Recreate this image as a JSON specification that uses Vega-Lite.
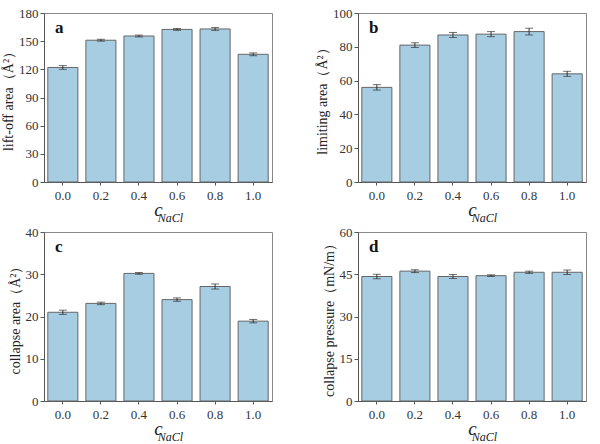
{
  "$schema": "https://vega.github.io/schema/vega-lite/v6.json",
  "padding": {"left": 1, "top": 6, "right": 5, "bottom": 0},
  "datasets": {
    "films": [
      {"c": "0.0", "liftoff": 122, "liftoff_sd": 2, "limiting": 56, "limiting_sd": 1.6, "carea": 21, "carea_sd": 0.5, "cpress": 44.2, "cpress_sd": 0.8},
      {"c": "0.2", "liftoff": 151, "liftoff_sd": 1, "limiting": 81, "limiting_sd": 1.4, "carea": 23.1, "carea_sd": 0.3, "cpress": 46.1, "cpress_sd": 0.5},
      {"c": "0.4", "liftoff": 155.5, "liftoff_sd": 1, "limiting": 87, "limiting_sd": 1.5, "carea": 30.2, "carea_sd": 0.2, "cpress": 44.2, "cpress_sd": 0.7},
      {"c": "0.6", "liftoff": 162.5, "liftoff_sd": 1, "limiting": 87.5, "limiting_sd": 1.5, "carea": 24, "carea_sd": 0.4, "cpress": 44.5, "cpress_sd": 0.3},
      {"c": "0.8", "liftoff": 163, "liftoff_sd": 1.5, "limiting": 89, "limiting_sd": 2, "carea": 27.1, "carea_sd": 0.6, "cpress": 45.7, "cpress_sd": 0.4},
      {"c": "1.0", "liftoff": 136, "liftoff_sd": 1.5, "limiting": 64, "limiting_sd": 1.5, "carea": 18.9, "carea_sd": 0.4, "cpress": 45.7, "cpress_sd": 0.8}
    ]
  },
  "data": {"name": "films"},
  "columns": 2,
  "spacing": {"row": 50, "column": 86},
  "bounds": "flush",
  "concat": [
    {
      "width": 228, "height": 169,
      "title": {"text": "a"},
      "layer": [
        {
          "mark": {"type": "bar", "fill": "#a7cde2", "stroke": "#666", "strokeWidth": 1},
          "encoding": {
            "x": {"field": "c", "type": "ordinal", "scale": {"paddingInner": 0.21, "paddingOuter": 0.1}, "axis": {"title": "c"}},
            "y": {"field": "liftoff", "type": "quantitative", "title": "lift-off area（Å²）", "scale": {"domain": [0, 180]}, "axis": {"values": [0, 30, 60, 90, 120, 150, 180]}}
          }
        },
        {
          "mark": {"type": "errorbar", "ticks": {"size": 8}, "color": "#333"},
          "encoding": {
            "x": {"field": "c", "type": "ordinal", "axis": {"orient": "bottom", "title": "NaCl", "labels": false, "ticks": false, "domain": false, "titleFontSize": 12, "titleX": 126, "titleY": 30}},
            "y": {"field": "liftoff", "type": "quantitative", "title": "lift-off area（Å²）", "axis": {"values": [0, 30, 60, 90, 120, 150, 180]}},
            "yError": {"field": "liftoff_sd"}
          }
        }
      ],
      "resolve": {"axis": {"x": "independent"}}
    },
    {
      "width": 228, "height": 169,
      "title": {"text": "b"},
      "layer": [
        {
          "mark": {"type": "bar", "fill": "#a7cde2", "stroke": "#666", "strokeWidth": 1},
          "encoding": {
            "x": {"field": "c", "type": "ordinal", "scale": {"paddingInner": 0.21, "paddingOuter": 0.1}, "axis": {"title": "c"}},
            "y": {"field": "limiting", "type": "quantitative", "title": "limiting area（Å²）", "scale": {"domain": [0, 100]}, "axis": {"values": [0, 20, 40, 60, 80, 100]}}
          }
        },
        {
          "mark": {"type": "errorbar", "ticks": {"size": 8}, "color": "#333"},
          "encoding": {
            "x": {"field": "c", "type": "ordinal", "axis": {"orient": "bottom", "title": "NaCl", "labels": false, "ticks": false, "domain": false, "titleFontSize": 12, "titleX": 126, "titleY": 30}},
            "y": {"field": "limiting", "type": "quantitative", "title": "limiting area（Å²）", "axis": {"values": [0, 20, 40, 60, 80, 100]}},
            "yError": {"field": "limiting_sd"}
          }
        }
      ],
      "resolve": {"axis": {"x": "independent"}}
    },
    {
      "width": 228, "height": 169,
      "title": {"text": "c"},
      "layer": [
        {
          "mark": {"type": "bar", "fill": "#a7cde2", "stroke": "#666", "strokeWidth": 1},
          "encoding": {
            "x": {"field": "c", "type": "ordinal", "scale": {"paddingInner": 0.21, "paddingOuter": 0.1}, "axis": {"title": "c"}},
            "y": {"field": "carea", "type": "quantitative", "title": "collapse area（Å²）", "scale": {"domain": [0, 40]}, "axis": {"values": [0, 10, 20, 30, 40]}}
          }
        },
        {
          "mark": {"type": "errorbar", "ticks": {"size": 8}, "color": "#333"},
          "encoding": {
            "x": {"field": "c", "type": "ordinal", "axis": {"orient": "bottom", "title": "NaCl", "labels": false, "ticks": false, "domain": false, "titleFontSize": 12, "titleX": 126, "titleY": 30}},
            "y": {"field": "carea", "type": "quantitative", "title": "collapse area（Å²）", "axis": {"values": [0, 10, 20, 30, 40]}},
            "yError": {"field": "carea_sd"}
          }
        }
      ],
      "resolve": {"axis": {"x": "independent"}}
    },
    {
      "width": 228, "height": 169,
      "title": {"text": "d"},
      "layer": [
        {
          "mark": {"type": "bar", "fill": "#a7cde2", "stroke": "#666", "strokeWidth": 1},
          "encoding": {
            "x": {"field": "c", "type": "ordinal", "scale": {"paddingInner": 0.21, "paddingOuter": 0.1}, "axis": {"title": "c"}},
            "y": {"field": "cpress", "type": "quantitative", "title": "collapse pressure（mN/m）", "scale": {"domain": [0, 60]}, "axis": {"values": [0, 15, 30, 45, 60]}}
          }
        },
        {
          "mark": {"type": "errorbar", "ticks": {"size": 8}, "color": "#333"},
          "encoding": {
            "x": {"field": "c", "type": "ordinal", "axis": {"orient": "bottom", "title": "NaCl", "labels": false, "ticks": false, "domain": false, "titleFontSize": 12, "titleX": 126, "titleY": 30}},
            "y": {"field": "cpress", "type": "quantitative", "title": "collapse pressure（mN/m）", "axis": {"values": [0, 15, 30, 45, 60]}},
            "yError": {"field": "cpress_sd"}
          }
        }
      ],
      "resolve": {"axis": {"x": "independent"}}
    }
  ],
  "config": {
    "font": "Liberation Serif",
    "view": {"stroke": "#888", "strokeWidth": 1},
    "title": {"fontSize": 17, "fontWeight": "bold", "color": "#111", "font": "Liberation Serif", "anchor": "start", "frame": "group", "offset": -30, "dx": 11},
    "axis": {
      "grid": false,
      "labelFont": "Liberation Serif",
      "labelFontSize": 13,
      "labelColor": "#333",
      "titleFont": "Liberation Serif",
      "titleFontWeight": "normal",
      "titleColor": "#222",
      "domainColor": "#555",
      "tickColor": "#555",
      "tickSize": 4
    },
    "axisX": {"labelAngle": 0, "labelPadding": 4, "tickSize": 3, "titleFontSize": 19, "titleFontStyle": "italic", "titleBaseline": "top", "titleY": 18},
    "axisY": {"titleFontSize": 14, "titlePadding": 3, "labelPadding": 2}
  }
}
